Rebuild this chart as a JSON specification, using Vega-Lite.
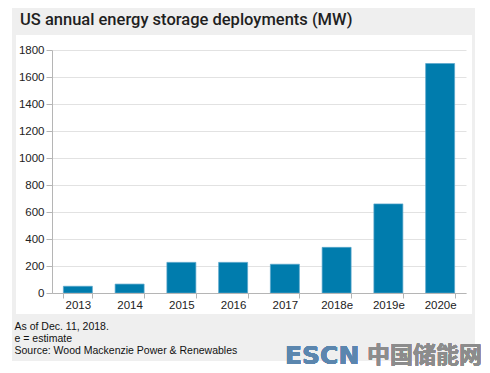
{
  "$schema": "https://vega.github.io/schema/vega-lite/v6.json",
  "width": 414,
  "height": 243,
  "autosize": {"type": "none"},
  "padding": {"left": 52, "top": 50, "right": 24, "bottom": 80},
  "background": "white",
  "title": {
    "text": "US annual energy storage deployments (MW)",
    "anchor": "start",
    "frame": "group",
    "dx": -32,
    "dy": 13,
    "offset": -20,
    "baseline": "alphabetic",
    "font": "Roboto",
    "fontSize": 16.5,
    "fontWeight": 500,
    "color": "#1f1f1f"
  },
  "config": {
    "view": {"stroke": null},
    "axis": {"labelFont": "Liberation Sans", "labelFontSize": 11.5, "labelColor": "#222222"}
  },
  "data": {
    "values": [
      {"year": "2013", "mw": 50},
      {"year": "2014", "mw": 66},
      {"year": "2015", "mw": 227},
      {"year": "2016", "mw": 227},
      {"year": "2017", "mw": 213},
      {"year": "2018e", "mw": 338},
      {"year": "2019e", "mw": 660},
      {"year": "2020e", "mw": 1700}
    ]
  },
  "layer": [
    {
      "mark": {"type": "bar", "color": "#007cad", "stroke": "#5aa6cc", "strokeWidth": 0.7},
      "encoding": {
        "x": {
          "field": "year", "type": "nominal", "sort": null,
          "scale": {"paddingInner": 0.44, "paddingOuter": 0.22},
          "axis": {
            "orient": "bottom", "zindex": 1, "labelAngle": 0, "tickBand": "extent",
            "domainColor": "#b5b5b5", "tickColor": "#b5b5b5", "tickSize": 5, "labelPadding": 1,
            "title": ["As of Dec. 11, 2018.", "e = estimate", "Source: Wood Mackenzie Power & Renewables"],
            "titleFont": "Liberation Sans", "titleFontSize": 10.5, "titleFontWeight": "normal",
            "titleColor": "#111111", "titleAlign": "left", "titleAnchor": "start", "titleAngle": 0,
            "titleBaseline": "alphabetic", "titleX": -38, "titleY": 36, "titleLineHeight": 12
          }
        },
        "y": {
          "field": "mw", "type": "quantitative",
          "scale": {"domain": [0, 1800], "nice": false},
          "axis": {
            "orient": "left", "values": [0, 200, 400, 600, 800, 1000, 1200, 1400, 1600, 1800],
            "format": "d",
            "grid": true, "gridColor": "#e2e2e2", "domainColor": "#b5b5b5", "tickColor": "#b5b5b5",
            "tickSize": 6, "labelPadding": 2, "title": null
          }
        }
      }
    },
    {
      "layer": [
        {
          "mark": {"type": "rect", "color": "#efefef"},
          "encoding": {
            "x": {"datum": -40, "type": "quantitative", "scale": {"domain": [0, 414], "nice": false, "zero": false}, "axis": null},
            "x2": {"datum": 423},
            "y": {"datum": -42, "type": "quantitative", "scale": {"domain": [0, 243], "nice": false, "zero": false, "reverse": true}, "axis": null},
            "y2": {"datum": -15}
          }
        },
        {
          "mark": {"type": "rect", "color": "#efefef"},
          "encoding": {
            "x": {"datum": -40, "type": "quantitative", "scale": {"domain": [0, 414], "nice": false, "zero": false}, "axis": null},
            "x2": {"datum": 423},
            "y": {"datum": 264, "type": "quantitative", "scale": {"domain": [0, 243], "nice": false, "zero": false, "reverse": true}, "axis": null},
            "y2": {"datum": 311}
          }
        },
        {
          "mark": {"type": "rect", "color": "#efefef"},
          "encoding": {
            "x": {"datum": -40, "type": "quantitative", "scale": {"domain": [0, 414], "nice": false, "zero": false}, "axis": null},
            "x2": {"datum": -36},
            "y": {"datum": -15, "type": "quantitative", "scale": {"domain": [0, 243], "nice": false, "zero": false, "reverse": true}, "axis": null},
            "y2": {"datum": 264}
          }
        },
        {
          "mark": {"type": "rect", "color": "#efefef"},
          "encoding": {
            "x": {"datum": 420, "type": "quantitative", "scale": {"domain": [0, 414], "nice": false, "zero": false}, "axis": null},
            "x2": {"datum": 423},
            "y": {"datum": -15, "type": "quantitative", "scale": {"domain": [0, 243], "nice": false, "zero": false, "reverse": true}, "axis": null},
            "y2": {"datum": 264}
          }
        },
        {
          "mark": {"type": "text", "text": "ESCN", "font": "DejaVu Sans", "fontWeight": "bold", "fontSize": 25, "color": "#5b86ae", "align": "left", "baseline": "alphabetic"},
          "encoding": {
            "x": {"datum": 233, "type": "quantitative", "scale": {"domain": [0, 414], "nice": false, "zero": false}, "axis": null},
            "y": {"datum": 314, "type": "quantitative", "scale": {"domain": [0, 243], "nice": false, "zero": false, "reverse": true}, "axis": null}
          }
        },
        {
          "mark": {"type": "text", "text": "中国储能网", "font": "Noto Sans CJK SC", "fontWeight": "bold", "fontSize": 23, "color": "#8c8c8c", "align": "left", "baseline": "alphabetic"},
          "encoding": {
            "x": {"datum": 315, "type": "quantitative", "scale": {"domain": [0, 414], "nice": false, "zero": false}, "axis": null},
            "y": {"datum": 313, "type": "quantitative", "scale": {"domain": [0, 243], "nice": false, "zero": false, "reverse": true}, "axis": null}
          }
        }
      ]
    }
  ],
  "resolve": {"scale": {"x": "independent", "y": "independent"}}
}
